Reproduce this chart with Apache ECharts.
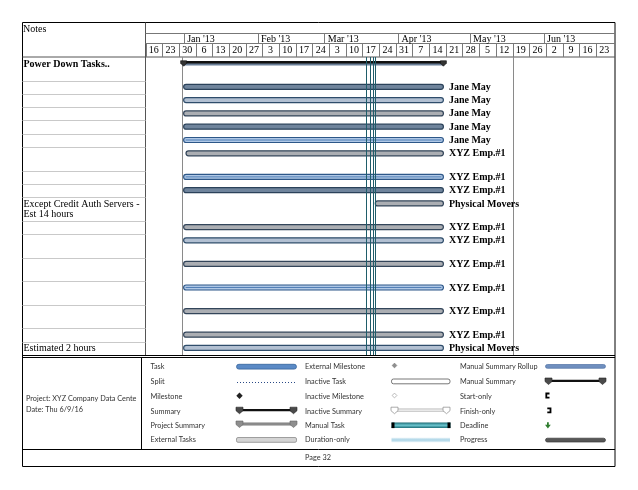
<!DOCTYPE html>
<html><head><meta charset="utf-8">
<script src="https://cdn.jsdelivr.net/npm/echarts@6/dist/echarts.min.js"></script>
<style>html,body{margin:0;padding:0;background:#fff;}#c{width:638px;height:490px;}</style>
</head><body><div id="c"></div>
<script>
// ================= DATA =================
const weekStarts = ['2012-12-16','2012-12-23','2012-12-30','2013-01-06','2013-01-13','2013-01-20','2013-01-27',
  '2013-02-03','2013-02-10','2013-02-17','2013-02-24','2013-03-03','2013-03-10','2013-03-17','2013-03-24','2013-03-31',
  '2013-04-07','2013-04-14','2013-04-21','2013-04-28','2013-05-05','2013-05-12','2013-05-19','2013-05-26',
  '2013-06-02','2013-06-09','2013-06-16','2013-06-23'];
const weekLabels = ['16','23','30','6','13','20','27','3','10','17','24','3','10','17','24','31','7','14','21','28','5','12','19','26','2','9','16','23'];
const monthStarts = ['2013-01-01','2013-02-01','2013-03-01','2013-04-01','2013-05-01','2013-06-01'];
const monthLabels = ["Jan '13","Feb '13","Mar '13","Apr '13","May '13","Jun '13"];
const timeRange = ['2012-12-16','2013-07-01'];

const noteLines = [2,1,1,1,1,1,2,1,1,2,1,2,2,2,2,1,1];
const notes = ['Power Down Tasks..','','','','','','','','','Except Credit Auth Servers -\nEst 14 hours','','','','','','','Estimated 2 hours'];
const rowKind = ['summary','task','task','task','task','task','task','task','task','task','task','task','task','task','task','task','task'];
const taskStart = ['2013-01-01','2013-01-01','2013-01-01','2013-01-01','2013-01-01','2013-01-01','2013-01-02','2013-01-01','2013-01-01',
  '2013-03-22 10:00','2013-01-01','2013-01-01','2013-01-01','2013-01-01','2013-01-01','2013-01-01','2013-01-01'];
const taskEnd = ['2013-04-20','2013-04-20','2013-04-20','2013-04-20','2013-04-20','2013-04-20','2013-04-20','2013-04-20','2013-04-20',
  '2013-04-20','2013-04-20','2013-04-20','2013-04-20','2013-04-20','2013-04-20','2013-04-20','2013-04-20'];
const resources = ['','Jane May','Jane May','Jane May','Jane May','Jane May','XYZ Emp.#1','XYZ Emp.#1','XYZ Emp.#1','Physical Movers',
  'XYZ Emp.#1','XYZ Emp.#1','XYZ Emp.#1','XYZ Emp.#1','XYZ Emp.#1','XYZ Emp.#1','Physical Movers'];
const projectLines = ['2012-12-31 08:00','2013-05-19'];
const linkLines = ['2013-03-18 08:00','2013-03-20 07:00','2013-03-21 06:00','2013-03-22 10:00'];

const legendCol1 = ['Task','Split','Milestone','Summary','Project Summary','External Tasks'];
const legendCol2 = ['External Milestone','Inactive Task','Inactive Milestone','Inactive Summary','Manual Task','Duration-only'];
const legendCol3 = ['Manual Summary Rollup','Manual Summary','Start-only','Finish-only','Deadline','Progress'];
const projectInfo = ['Project: XYZ Company Data Cente','Date: Thu 6/9/16'];
const pageLabel = 'Page 32';
const notesHeader = 'Notes';

// ================= STYLE =================
const SERIF = '"Liberation Serif","Times New Roman",serif';
const SANS = 'Lato,"Open Sans",sans-serif';
const rowTone = ['','dark','light','gray','dark','blue','gray','blue','dark','gray','gray','light','gray','blue','gray','gray','light'];
const TONES = {
  dark:{fill:'#6f849c',stroke:'#2b425a'},
  light:{fill:'#b2c0d2',stroke:'#2f4d6b'},
  gray:{fill:'#abaeb3',stroke:'#33455a'},
  blue:{fill:'#b0c8e6',stroke:'#2d5788',center:'#4676b0'}
};
const EXTRA_LINE = 0.774, BAR_OFFSET = 0.47;

// ================= HELPERS =================
function t(s){
  const parts = s.split(' ');
  const [Y,M,D] = parts[0].split('-').map(Number);
  let hh=0, mm=0;
  if(parts[1]){ [hh,mm] = parts[1].split(':').map(Number); }
  return new Date(Y, M-1, D, hh, mm).getTime();
}
const DAY = 86400000;
const rowTop = []; let acc = 0;
noteLines.forEach(n => { rowTop.push(acc); acc += 1 + (n-1)*EXTRA_LINE; });
const totalRows = acc;
const px = v => Math.round(v) + 0.5;
function txtStyle(o){ return Object.assign({fill:'#000'}, o, {align:o.textAlign, verticalAlign:o.textVerticalAlign}); }

const xMin = t(timeRange[0]), xMax = t(timeRange[1]);
const timeAxis = gi => ({type:'time', gridIndex:gi, min:xMin, max:xMax, show:false});

// ================= SERIES =================
const monthSeries = {
  type:'custom', xAxisIndex:0, yAxisIndex:0, clip:false,
  data: monthStarts.map(s => [t(s), 0]),
  renderItem(params, api){
    const cs = params.coordSys;
    const x = api.coord([api.value(0), 0])[0];
    return {type:'group', children:[
      {type:'line', shape:{x1:px(x), y1:cs.y, x2:px(x), y2:cs.y+cs.height}, style:{stroke:'#7a7a7a', lineWidth:1}},
      {type:'text', style:txtStyle({x:x+3.5, y:cs.y+cs.height/2+0.5, text:monthLabels[params.dataIndex], font:'10px '+SERIF, textAlign:'left', textVerticalAlign:'middle'})}
    ]};
  }
};
const weekSeries = {
  type:'custom', xAxisIndex:1, yAxisIndex:1, clip:false,
  data: weekStarts.map(s => [t(s), t(s)+7*DAY]),
  renderItem(params, api){
    const cs = params.coordSys;
    const x0 = api.coord([api.value(0), 0])[0];
    const x1 = api.coord([api.value(1), 0])[0];
    return {type:'group', children:[
      {type:'line', shape:{x1:px(x0), y1:cs.y, x2:px(x0), y2:cs.y+cs.height}, style:{stroke:'#7a7a7a', lineWidth:1}},
      {type:'text', style:txtStyle({x:(x0+x1)/2, y:cs.y+cs.height/2, text:weekLabels[params.dataIndex], font:'10px '+SERIF, textAlign:'center', textVerticalAlign:'middle'})}
    ]};
  }
};
const projLineSeries = {
  type:'custom', xAxisIndex:2, yAxisIndex:2, clip:false,
  data: projectLines.map(s => [t(s), 0]),
  renderItem(params, api){
    const cs = params.coordSys;
    const x = api.coord([api.value(0), 0])[0];
    return {type:'line', shape:{x1:px(x), y1:cs.y, x2:px(x), y2:cs.y+cs.height}, style:{stroke:'#8a8a8a', lineWidth:1}};
  }
};
const linkLineSeries = {
  type:'custom', xAxisIndex:2, yAxisIndex:2, clip:false, z:5,
  data: linkLines.map(s => [t(s), 0]),
  renderItem(params, api){
    const cs = params.coordSys;
    const x = api.coord([api.value(0), 0])[0];
    return {type:'line', shape:{x1:px(x), y1:cs.y, x2:px(x), y2:cs.y+cs.height}, style:{stroke:'#1f5d6a', lineWidth:1}};
  }
};
const taskSeries = {
  type:'custom', xAxisIndex:2, yAxisIndex:2, clip:false, z:3,
  data: taskStart.map((s,i) => [t(s), t(taskEnd[i]), rowTop[i]+BAR_OFFSET]),
  renderItem(params, api){
    const i = params.dataIndex;
    const p0 = api.coord([api.value(0), api.value(2)]);
    const p1 = api.coord([api.value(1), api.value(2)]);
    const y = p0[1], xa = p0[0], xb = p1[0];
    const ch = [];
    if (rowKind[i] === 'summary'){
      ch.push({type:'rect', shape:{x:xa, y:y-2.2, width:xb-xa, height:4.4}, style:{fill:'#6a7f98'}});
      ch.push({type:'rect', shape:{x:xa, y:y-2.2, width:xb-xa, height:2.4}, style:{fill:'#111'}});
      [xa, xb].forEach(x => ch.push({type:'polygon', shape:{points:[[x-3,y-2.5],[x+3,y-2.5],[x+3,y],[x,y+3],[x-3,y]]}, style:{fill:'#333', stroke:'#111', lineWidth:0.6}}));
    } else {
      const tone = TONES[rowTone[i]];
      ch.push({type:'rect', shape:{x:xa, y:y-2.5, width:xb-xa, height:5, r:2.5}, style:{fill:tone.fill, stroke:tone.stroke, lineWidth:1.2}});
      if (tone.center) ch.push({type:'line', shape:{x1:xa+2, y1:y, x2:xb-2, y2:y}, style:{stroke:tone.center, lineWidth:0.9}});
      ch.push({type:'text', style:txtStyle({x:xb+5.5, y:y+0.5, text:resources[i], font:'bold 10px '+SERIF, textAlign:'left', textVerticalAlign:'middle'})});
    }
    return {type:'group', children:ch};
  }
};
const noteSeries = {
  type:'custom', xAxisIndex:3, yAxisIndex:3, clip:false,
  data: noteLines.map((n,i) => [0, rowTop[i], rowTop[i] + 1 + (n-1)*EXTRA_LINE]),
  renderItem(params, api){
    const i = params.dataIndex, cs = params.coordSys;
    const yBot = api.coord([0, api.value(2)])[1];
    const yText = api.coord([0, api.value(1) + BAR_OFFSET])[1];
    const ch = [];
    if (i < noteLines.length - 1) ch.push({type:'line', shape:{x1:cs.x, y1:px(yBot), x2:cs.x+cs.width, y2:px(yBot)}, style:{stroke:'#c9c9c9', lineWidth:1}});
    if (notes[i]) ch.push({type:'text', style:txtStyle({x:cs.x+1, y:yText-4.5, text:notes[i], font:(rowKind[i]==='summary'?'bold ':'')+'10px '+SERIF, lineHeight:10.5, textAlign:'left', textVerticalAlign:'top'})});
    return {type:'group', children:ch};
  }
};

// ================= FRAME & LEGEND (decoration) =================
const G = [];
const L = (x1,y1,x2,y2,stroke,w) => G.push({type:'line', silent:true, shape:{x1,y1,x2,y2}, style:{stroke:stroke||'#000', lineWidth:w||1}});
const T = (x,y,s,o) => G.push({type:'text', silent:true, style:txtStyle(Object.assign({x, y, text:s, font:'7.3px '+SANS, fill:'#333', textAlign:'left', textVerticalAlign:'middle'}, o||{}))});
const R = (x,y,w,h,style,r) => G.push({type:'rect', silent:true, shape:{x,y,width:w,height:h,r:r||0}, style});
const P = (pts,style) => G.push({type:'polygon', silent:true, shape:{points:pts}, style});
const PL = (pts,style) => G.push({type:'polyline', silent:true, shape:{points:pts}, style});
const pent = (x,y,style) => P([[x-3.5,y-3],[x+3.5,y-3],[x+3.5,y+0.5],[x,y+3.5],[x-3.5,y+0.5]], style);
const diamond = (x,y,s,style) => P([[x,y-s],[x+s,y],[x,y+s],[x-s,y]], style);

// frame
G.push({type:'rect', silent:true, shape:{x:22.5, y:22.5, width:592.5, height:444}, style:{fill:'none', stroke:'#000', lineWidth:1}});
L(145.5,22.5,145.5,355,'#555');
L(145.5,33.5,615,33.5,'#777');
L(145.5,43.5,615,43.5,'#777');
L(22.5,57,615,57,'#555');
L(22,355.5,615,355.5,'#000',1.2);
L(22,357.5,615,357.5,'#000',1.2);
L(141.5,357.5,141.5,449,'#000');
L(22,449.5,615,449.5,'#000');
T(23, 29.5, notesHeader, {font:'10px '+SERIF, fill:'#000'});
T(26, 398.3, projectInfo[0]);
T(26, 409.5, projectInfo[1]);
T(318, 458, pageLabel, {textAlign:'center'});

const LY = [366.8, 381.6, 396.3, 411.3, 425.3, 440];
legendCol1.forEach((s,i) => T(150.5, LY[i], s));
legendCol2.forEach((s,i) => T(305, LY[i], s));
legendCol3.forEach((s,i) => T(460, LY[i], s));
// col1 symbols
R(236.5, 364.3, 60, 4.8, {fill:'#5a8ac6', stroke:'#34629b', lineWidth:0.8}, 2.4);
L(237, 382.5, 296, 382.5, '#2a4a86', 1); G[G.length-1].style.lineDash = [1,2];
diamond(239.5, 395.8, 3.2, {fill:'#222'});
R(239, 409, 55, 2.2, {fill:'#111'});
pent(239.5, 410.2, {fill:'#4a4a4a', stroke:'#222', lineWidth:0.6});
pent(293.5, 410.2, {fill:'#4a4a4a', stroke:'#222', lineWidth:0.6});
R(239, 422.8, 55, 2.4, {fill:'#8e8e8e', stroke:'#777', lineWidth:0.5});
pent(239.5, 424, {fill:'#8e8e8e', stroke:'#666', lineWidth:0.6});
pent(293.5, 424, {fill:'#8e8e8e', stroke:'#666', lineWidth:0.6});
R(236.5, 437.5, 60, 4.8, {fill:'#d4d4d4', stroke:'#8c8c8c', lineWidth:0.8}, 1.5);
// col2 symbols
diamond(394.5, 365.5, 2.4, {fill:'#8f8f8f', stroke:'#777', lineWidth:0.5});
R(391.5, 379, 58.5, 4.8, {fill:'#fff', stroke:'#555', lineWidth:0.8}, 2);
diamond(394.5, 395.5, 2.4, {fill:'#fff', stroke:'#aaa', lineWidth:0.8});
R(394, 409, 52, 2.2, {fill:'#fff', stroke:'#888', lineWidth:0.6});
pent(394.5, 410.2, {fill:'#fff', stroke:'#888', lineWidth:0.7});
pent(446.5, 410.2, {fill:'#fff', stroke:'#888', lineWidth:0.7});
R(391.5, 422.5, 59, 5.6, {fill:{type:'linear',x:0,y:0,x2:0,y2:1,colorStops:[{offset:0,color:'#1b6a74'},{offset:0.5,color:'#6cc6cf'},{offset:1,color:'#1b6a74'}]}});
R(391.5, 422.5, 3, 5.6, {fill:'#000'});
R(447.5, 422.5, 3, 5.6, {fill:'#000'});
R(391.5, 437.8, 58.5, 4.4, {fill:{type:'linear',x:0,y:0,x2:0,y2:1,colorStops:[{offset:0,color:'#e3f1f7'},{offset:0.5,color:'#a9d3e6'},{offset:1,color:'#e3f1f7'}]}});
// col3 symbols
R(545.5, 364.5, 60, 3.8, {fill:'#6f8fbf', stroke:'#5172a5', lineWidth:0.7}, 1.9);
R(548, 379.8, 55, 2.2, {fill:'#111'});
pent(548.5, 381, {fill:'#4a4a4a', stroke:'#222', lineWidth:0.6});
pent(602.5, 381, {fill:'#4a4a4a', stroke:'#222', lineWidth:0.6});
PL([[549.5,393.5],[546.3,393.5],[546.3,397.6],[549.5,397.6]], {stroke:'#000', lineWidth:1.8, fill:'none'});
PL([[547.3,408.3],[550.5,408.3],[550.5,412.4],[547.3,412.4]], {stroke:'#000', lineWidth:1.8, fill:'none'});
P([[547,422.3],[548.8,422.3],[548.8,424.8],[550.8,424.8],[547.9,428.4],[545,424.8],[547,424.8]], {fill:'#2f7d2f'});
R(545.5, 438.2, 60, 3.8, {fill:'#575757', stroke:'#3a3a3a', lineWidth:0.7}, 1.9);

// ================= CHART =================
const chart = echarts.init(document.getElementById('c'), null, {renderer:'canvas'});
chart.setOption({
  animation:false,
  grid:[
    {left:145.5, top:33.5, width:469.5, height:10},
    {left:145.5, top:43.5, width:469.5, height:13.5},
    {left:145.5, top:57, width:469.5, height:298},
    {left:22.5, top:57, width:123, height:298}
  ],
  xAxis:[timeAxis(0), timeAxis(1), timeAxis(2), {type:'value', gridIndex:3, min:0, max:1, show:false}],
  yAxis:[
    {type:'value', gridIndex:0, min:0, max:1, show:false},
    {type:'value', gridIndex:1, min:0, max:1, show:false},
    {type:'value', gridIndex:2, min:0, max:totalRows, inverse:true, show:false},
    {type:'value', gridIndex:3, min:0, max:totalRows, inverse:true, show:false}
  ],
  series:[monthSeries, weekSeries, projLineSeries, linkLineSeries, taskSeries, noteSeries],
  graphic:{elements:G}
});
</script>
</body></html>
